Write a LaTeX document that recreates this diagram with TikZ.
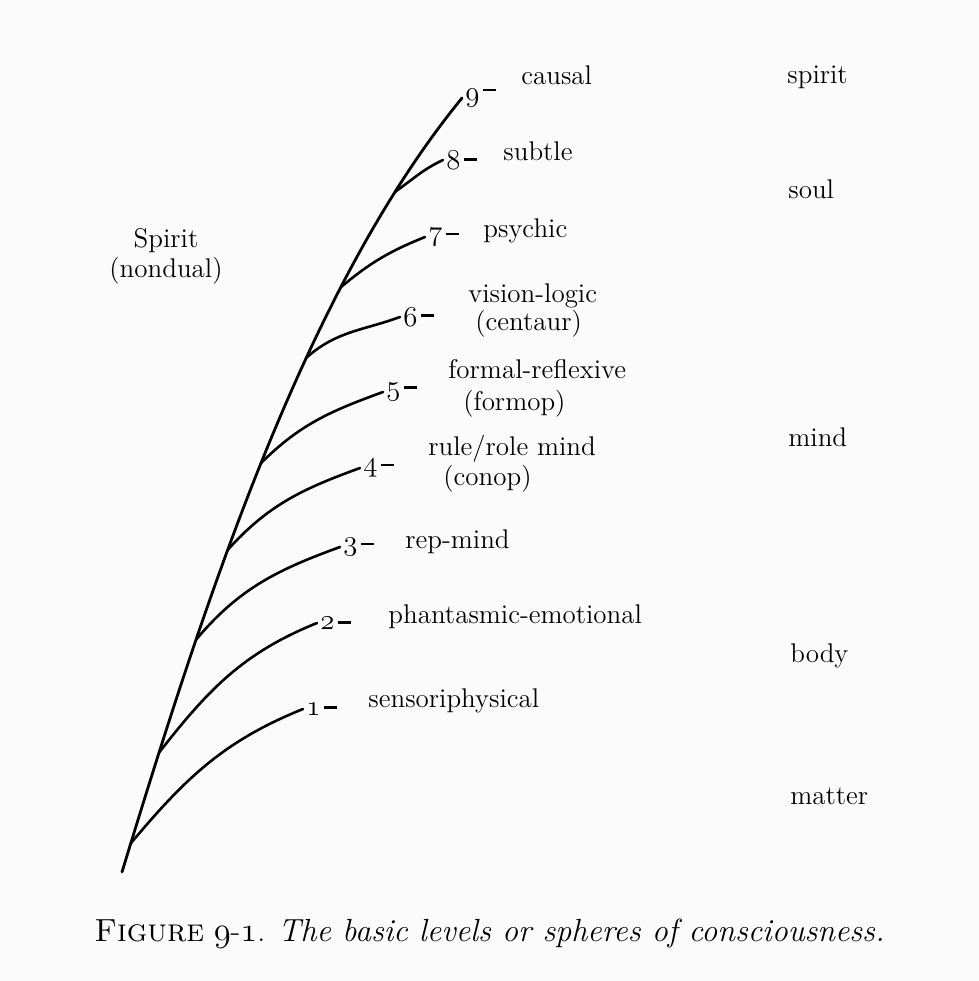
\documentclass[tikz,border=0pt]{standalone}
\newcommand\osn[1]{{\usefont{OML}{lmm}{m}{it}#1}}
\newcommand\dsh[1][2.6pt]{\hspace{1.6pt}\rule[#1]{6.8pt}{1.3pt}}
\begin{document}
\begin{tikzpicture}[x=0.5pt,y=-0.5pt,
  lbl/.style={font=\fontsize{13.5}{16}\selectfont, inner sep=0pt, anchor=base west},
  num/.style={font=\fontsize{14}{16}\selectfont, inner xsep=1.5pt, inner ysep=0pt, anchor=west},
  stem/.style={line width=1.4pt, line cap=round},
  twig/.style={line width=1.3pt, line cap=round}]
\fill[fill={rgb,255:red,251;green,251;blue,251}] (0,0) rectangle (979,981);
\useasboundingbox (0,0) rectangle (979,981);
% numbers at branch tips
\node[num] (n1) at (303,709) {\osn{1}\dsh[3.2pt]};
\node[num] (n2) at (317,623) {\osn{2}\dsh[2.6pt]};
\node[num] (n3) at (340,547) {\osn{3}\dsh};
\node[num] (n4) at (360,468) {\osn{4}\dsh};
\node[num] (n5) at (383,392) {\osn{5}\dsh[3.2pt]};
\node[num] (n6) at (400,317) {\osn{6}\dsh[4.6pt]};
\node[num] (n7) at (425,237) {\osn{7}\dsh};
\node[num] (n8) at (443,160) {\osn{8}\dsh[4.2pt]};
\node[num] (n9) at (462,98) {\osn{9}\dsh[5.2pt]};
% level names
\node[lbl] (d9) at (521,84) {causal};
\node[lbl] (d8) at (503,160) {subtle};
\node[lbl] (d7) at (483,237) {psychic};
\node[lbl] (d6a) at (468,302) {vision-logic};
\node[lbl] (d6b) at (475,330) {(centaur)};
\node[lbl] (d5a) at (448,378) {formal-reflexive};
\node[lbl] (d5b) at (463,410) {(formop)};
\node[lbl] (d4a) at (428,455) {rule/role mind};
\node[lbl] (d4b) at (443,485) {(conop)};
\node[lbl] (d3) at (405,548) {rep-mind};
\node[lbl] (d2) at (388,623) {phantasmic-emotional};
\node[lbl] (d1) at (368,707) {sensoriphysical};
% spheres
\node[lbl] (s1) at (787,83) {spirit};
\node[lbl] (s2) at (788,198) {soul};
\node[lbl] (s3) at (788,446) {mind};
\node[lbl] (s4) at (790,662) {body};
\node[lbl] (s5) at (790,804) {matter};
\node[font=\fontsize{13.5}{15}\selectfont, align=center, anchor=base, inner sep=0pt] (sp) at (166,277) {Spirit\\(nondual)};
% caption
\node[font=\fontsize{16}{19}\selectfont, anchor=base, inner sep=0pt] (cap) at (489.5,941)
  {\textsc{Figure} \osn{9}-\osn{1}. \textit{The basic levels or spheres of consciousness.}};
% main stem
\coordinate (root) at (122,872);
\draw[stem] (root) .. controls (205,600) and (305,290) .. (n9.west)
  coordinate[pos=0.035] (b1) coordinate[pos=0.144] (b2) coordinate[pos=0.278] (b3)
  coordinate[pos=0.385] (b4) coordinate[pos=0.49] (b5) coordinate[pos=0.622] (b6)
  coordinate[pos=0.715] (b7) coordinate[pos=0.85] (b8);
% branches
\draw[twig] (b1) to[out=50,in=202] (n1.west);
\draw[twig] (b2) to[out=52,in=202] (n2.west);
\draw[twig] (b3) to[out=50,in=200] (n3.west);
\draw[twig] (b4) to[out=48,in=200] (n4.west);
\draw[twig] (b5) to[out=45,in=200] (n5.west);
\draw[twig] (b6) to[out=42,in=200] (n6.west);
\draw[twig] (b7) to[out=40,in=202] (n7.west);
\draw[twig] (b8) to[out=35,in=205] (n8.west);
\end{tikzpicture}
\end{document}
